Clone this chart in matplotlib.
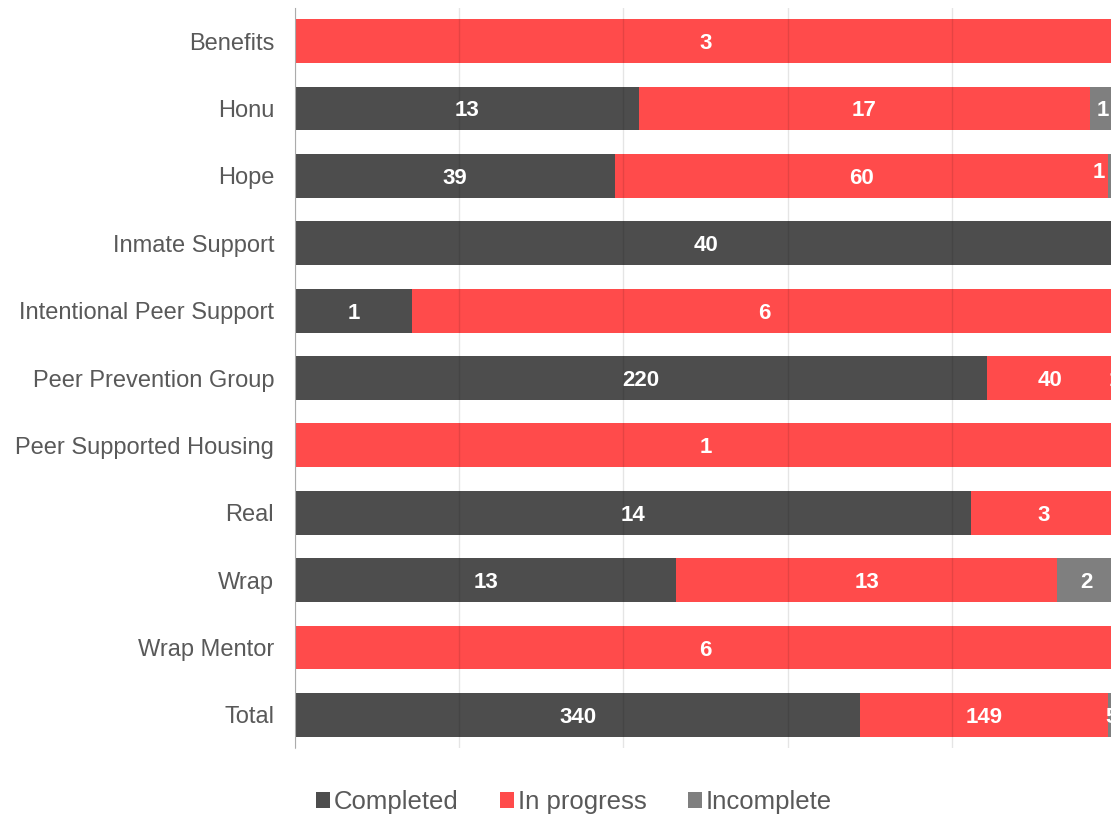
import numpy as np
import matplotlib.pyplot as plt

plt.rcParams["font.family"] = ["Liberation Sans", "DejaVu Sans"]

programs = ["Benefits", "Honu", "Hope", "Inmate Support", "Intentional Peer Support",
            "Peer Prevention Group", "Peer Supported Housing", "Real", "Wrap",
            "Wrap Mentor", "Total"]
completed = [0, 13, 39, 40, 1, 220, 0, 14, 13, 0, 340]
in_progress = [3, 17, 60, 0, 6, 40, 1, 3, 13, 6, 149]
incomplete = [0, 1, 1, 0, 0, 1, 0, 0, 2, 0, 5]

series = [("Completed", completed, "#4d4d4d"),
          ("In progress", in_progress, "#ff4b4b"),
          ("Incomplete", incomplete, "#7f7f7f")]

totals = np.array(completed) + np.array(in_progress) + np.array(incomplete)

fig = plt.figure(figsize=(11.11, 8.19), dpi=100)
# right edge of the plot runs a bit past the image border, like the original
ax = fig.add_axes([295 / 1111, 1 - 748 / 819, 821 / 1111, 740 / 819])

y = np.arange(len(programs))
left = np.zeros(len(programs))
for name, vals, col in series:
    share = np.array(vals) / totals
    ax.barh(y, share, left=left, height=0.65, color=col, label=name, zorder=2)
    for i, v in enumerate(vals):
        if v <= 0:
            continue
        xc, yc = left[i] + share[i] / 2, y[i]
        if name == "Incomplete" and programs[i] == "Hope":
            # tiny slice: label pulled inside, like the original
            xc, yc = xc - 0.016, yc - 0.08
        ax.text(xc, yc, str(v), ha="center", va="center_baseline",
                color="white", fontsize=16, fontweight="bold", zorder=4)
    left += share

ax.set_xlim(0, 1)
ax.set_ylim(len(programs) - 0.51, -0.49)
ax.set_yticks(y)
ax.set_yticklabels(programs, fontsize=17, color="#595959")
ax.tick_params(axis="y", length=0, pad=15)
ax.set_xticks([0, 0.2, 0.4, 0.6, 0.8, 1.0])
ax.tick_params(axis="x", length=0, labelbottom=False)
ax.grid(axis="x", color="black", alpha=0.1, linewidth=1, zorder=3)
ax.set_axisbelow(False)
for s in ["top", "right", "bottom"]:
    ax.spines[s].set_visible(False)
ax.spines["left"].set_color("#bfbfbf")

handles, labels = ax.get_legend_handles_labels()
fig.legend(handles, labels, loc="center", bbox_to_anchor=(574 / 1111, 1 - 802 / 819),
           ncol=3, frameon=False, fontsize=18.5, handlelength=0.55, handleheight=0.55,
           handletextpad=0.15, columnspacing=1.6, labelcolor="#595959")

fig.savefig("out.png", dpi=100)
